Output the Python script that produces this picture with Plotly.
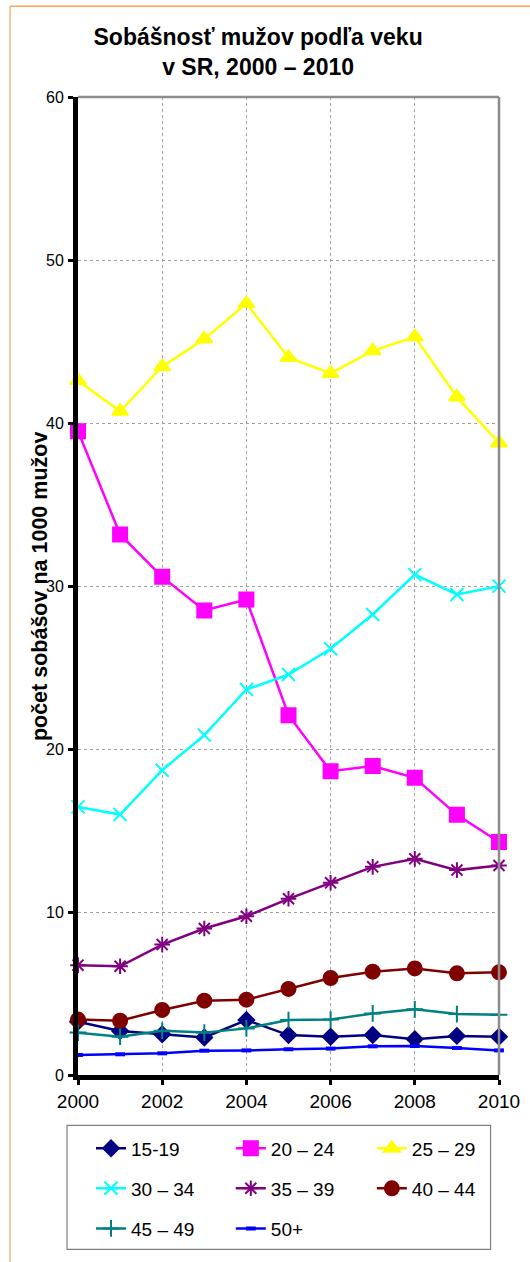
import plotly.graph_objects as go

years = [2000, 2001, 2002, 2003, 2004, 2005, 2006, 2007, 2008, 2009, 2010]
s15_19 = [3.27, 2.70, 2.50, 2.30, 3.37, 2.45, 2.35, 2.45, 2.20, 2.40, 2.35]
s20_24 = [39.5, 33.16, 30.56, 28.5, 29.17, 22.07, 18.64, 18.95, 18.23, 15.96, 14.3]
s25_29 = [42.6, 40.72, 43.45, 45.16, 47.33, 44.02, 43.04, 44.43, 45.29, 41.6, 38.78]
s30_34 = [16.45, 15.98, 18.7, 20.85, 23.65, 24.57, 26.15, 28.25, 30.7, 29.48, 29.99]
s35_39 = [6.74, 6.67, 8.0, 8.99, 9.74, 10.81, 11.79, 12.77, 13.26, 12.57, 12.85]
s40_44 = [3.40, 3.33, 3.99, 4.56, 4.62, 5.28, 5.95, 6.34, 6.54, 6.24, 6.30]
s45_49 = [2.60, 2.35, 2.72, 2.60, 2.86, 3.37, 3.40, 3.78, 4.03, 3.74, 3.70]
s50 = [1.23, 1.27, 1.33, 1.49, 1.51, 1.58, 1.62, 1.76, 1.78, 1.66, 1.51]

names = ["15-19", "20 – 24", "25 – 29", "30 – 34", "35 – 39", "40 – 44", "45 – 49", "50+"]
series = [s15_19, s20_24, s25_29, s30_34, s35_39, s40_44, s45_49, s50]
colors = ["#000080", "#FF00FF", "#FFFF00", "#00FFFF", "#800080", "#800000", "#008080", "#0000FF"]
symbols = ["diamond", "square", "triangle-up", "x-thin", "asterisk", "circle", "cross-thin", "line-ew"]
sizes = [12, 14, 14, 13, 13, 14, 12, 7]

FONT = "Arial, Liberation Sans, sans-serif"

# legend grid (3 columns x 3 rows), one legend per entry
leg_cols = [0.0309, 0.363, 0.698]
leg_rows = [-0.0751, -0.116, -0.157]

fig = go.Figure()
layout_legends = {}
for i, (name, ys, col, sym, sz) in enumerate(zip(names, series, colors, symbols, sizes)):
    mline = dict(color=col, width=2)
    if sym == "line-ew":
        mline = dict(color=col, width=4)
    lg = "legend" if i == 0 else f"legend{i + 1}"
    fig.add_trace(go.Scatter(
        x=years, y=ys, name=name, mode="lines+markers",
        line=dict(color=col, width=2.5),
        marker=dict(symbol=sym, size=sz, color=col, line=mline),
        cliponaxis=False, legend=lg, showlegend=True,
    ))
    layout_legends[lg] = dict(
        orientation="h", font=dict(family=FONT, size=19, color="#000000"),
        bgcolor="rgba(0,0,0,0)", borderwidth=0,
        xanchor="left", yanchor="middle",
        x=leg_cols[i % 3], y=leg_rows[i // 3],
    )

fig.update_layout(
    width=530, height=1262, showlegend=True,
    margin=dict(l=78, r=31, t=97, b=186.5, autoexpand=False),
    paper_bgcolor="white", plot_bgcolor="white",
    title=dict(text="<b>Sobášnosť mužov podľa veku<br>v SR, 2000 – 2010</b>",
               font=dict(family=FONT, size=23, color="#000000"),
               x=0.487, xref="container", xanchor="center",
               y=1 - 45 / 1262, yref="container", yanchor="top"),
    xaxis=dict(range=[2000, 2010], tickmode="array", tickvals=[2000, 2002, 2004, 2006, 2008, 2010],
               ticktext=["2000", "2002", "2004", "2006", "2008", "2010"],
               showline=True, linecolor="#000000", linewidth=5,
               ticks="outside", ticklen=5, tickwidth=3, tickcolor="#000000",
               tickfont=dict(family=FONT, size=19, color="#000000"),
               showgrid=True, gridcolor="#A0A0A0", gridwidth=1, griddash="dot",
               zeroline=False),
    yaxis=dict(range=[0, 60], tickmode="array", tickvals=[0, 10, 20, 30, 40, 50, 60],
               showline=True, linecolor="#000000", linewidth=5,
               ticks="outside", ticklen=5, tickwidth=3, tickcolor="#000000",
               tickfont=dict(family=FONT, size=16, color="#000000"),
               showgrid=True, gridcolor="#A0A0A0", gridwidth=1, griddash="dot",
               zeroline=False, ticklabelstandoff=1),
    annotations=[
        dict(text="<b>počet sobášov na 1000 mužov</b>", xref="paper", yref="paper",
             x=-0.09, y=0.5, xanchor="center", yanchor="middle", textangle=-90,
             showarrow=False, font=dict(family=FONT, size=21.5, color="#000000")),
    ],
    shapes=[
        dict(type="line", xref="paper", yref="paper", x0=0, x1=1, y0=1, y1=1,
             line=dict(color="#8C8C8C", width=2.5)),
        dict(type="line", xref="paper", yref="paper", x0=1, x1=1, y0=0, y1=1,
             line=dict(color="#8C8C8C", width=2.5)),
        dict(type="rect", xref="paper", yref="paper", x0=-0.0261, x1=0.980, y0=-0.1783, y1=-0.0516,
             line=dict(color="#808080", width=1.2), fillcolor="rgba(0,0,0,0)", layer="below"),
        dict(type="line", xref="paper", yref="paper", x0=-0.1614, x1=1.08, y0=1.0927, y1=1.0927,
             line=dict(color="#F7A35C", width=1.5)),
        dict(type="line", xref="paper", yref="paper", x0=-0.1614, x1=-0.1614, y0=-0.2, y1=1.0927,
             line=dict(color="#F9B47A", width=1.5)),
    ],
    **layout_legends,
)

fig.write_html("out.html", config={"displayModeBar": False},
               post_script="document.body.style.margin='0px';")
